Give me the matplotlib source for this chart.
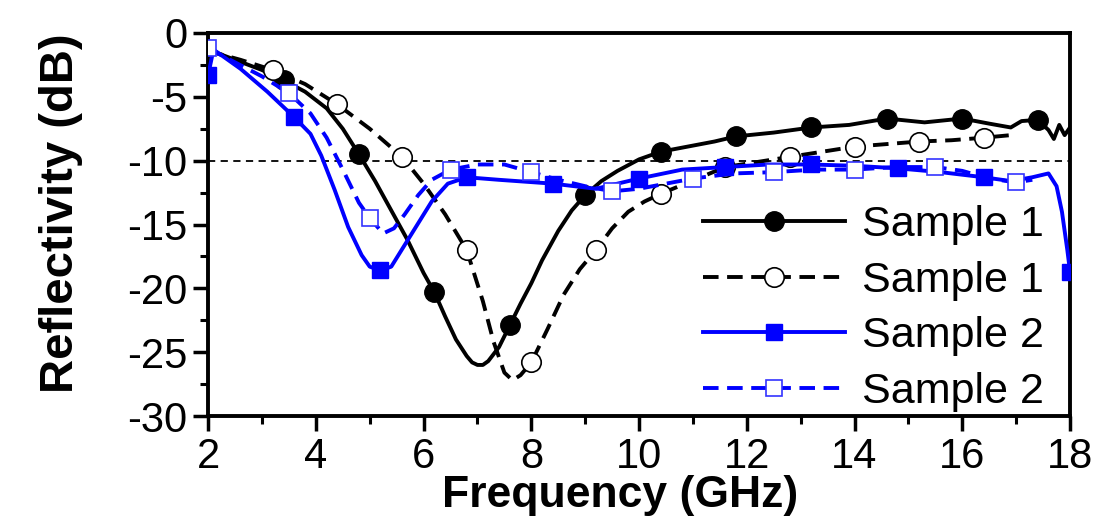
import numpy as np
import matplotlib
matplotlib.use("Agg")
import matplotlib.pyplot as plt
from matplotlib.ticker import MultipleLocator

plt.rcParams["font.family"] = ["Liberation Sans", "DejaVu Sans"]
plt.rcParams["axes.unicode_minus"] = False

# Sample 1 (solid, filled circles)
s1_x = [2.0, 2.5, 3.0, 3.4, 3.8, 4.2, 4.5, 4.8, 5.1, 5.4, 5.7, 6.0, 6.2, 6.4, 6.6, 6.8,
        6.9, 7.0, 7.1, 7.2, 7.4, 7.6, 7.8, 8.0, 8.2, 8.5, 8.75, 9.0, 9.3, 9.6, 10.0, 10.4,
        10.9, 11.4, 11.8, 12.5, 13.2, 13.9, 14.6, 15.3, 16.0, 16.5, 16.9, 17.1, 17.4,
        17.6, 17.7, 17.8, 17.9, 18.0]
s1_y = [-1.3, -2.1, -2.9, -3.7, -4.6, -5.9, -7.5, -9.5, -11.6, -13.9, -16.2, -18.8, -20.3,
        -22.2, -24.0, -25.3, -25.8, -26.0, -26.0, -25.7, -24.6, -22.9, -21.2, -19.6, -17.8,
        -15.5, -13.9, -12.7, -11.6, -10.8, -9.9, -9.3, -8.9, -8.5, -8.1, -7.8, -7.4, -7.2,
        -6.7, -7.0, -6.7, -7.1, -7.4, -6.9, -6.8, -7.6, -8.3, -7.2, -8.0, -7.4]
s1_mx = [3.4, 4.8, 6.2, 7.6, 9.0, 10.4, 11.8, 13.2, 14.6, 16.0, 17.4]

# Sample 1 (dashed, open circles)
s1d_x = [2.0, 2.6, 3.2, 3.8, 4.4, 5.0, 5.6, 6.0, 6.4, 6.8, 7.1, 7.3, 7.5, 7.65, 7.8, 8.0,
         8.3, 8.6, 8.9, 9.2, 9.5, 9.8, 10.1, 10.4, 10.8, 11.2, 11.6, 12.2, 12.8, 13.4,
         14.0, 14.6, 15.2, 15.8, 16.4, 16.9]
s1d_y = [-1.4, -2.1, -2.9, -4.0, -5.6, -7.5, -9.7, -11.8, -14.2, -17.0, -21.0, -24.2, -26.6,
         -27.2, -26.8, -25.8, -23.2, -20.5, -18.5, -17.0, -15.3, -14.0, -13.2, -12.6, -11.9,
         -11.2, -10.5, -10.1, -9.7, -9.3, -8.9, -8.7, -8.5, -8.4, -8.2, -8.0]
s1d_mx = [3.2, 4.4, 5.6, 6.8, 8.0, 9.2, 10.4, 11.6, 12.8, 14.0, 15.2, 16.4]

# Sample 2 (solid, filled squares)
s2_x = [2.0, 2.1, 2.6, 3.1, 3.6, 3.9, 4.1, 4.35, 4.6, 4.85, 5.0, 5.2, 5.4, 5.65, 5.9, 6.15,
        6.45, 6.8, 7.4, 8.4, 9.2, 10.0, 10.8, 11.6, 12.4, 13.2, 14.0, 14.8, 15.6, 16.4,
        16.9, 17.3, 17.6, 17.75, 17.85, 17.95, 18.0]
s2_y = [-3.3, -1.3, -2.8, -4.6, -6.6, -7.9, -9.6, -12.3, -15.2, -17.4, -18.3, -18.6, -18.3,
        -16.6, -14.9, -13.2, -11.8, -11.3, -11.5, -11.8, -12.2, -11.4, -10.7, -10.5, -10.3,
        -10.3, -10.4, -10.6, -10.9, -11.3, -11.6, -11.3, -11.0, -12.0, -14.0, -17.0, -18.7]
s2_mx = [2.0, 3.6, 5.2, 6.8, 8.4, 10.0, 11.6, 13.2, 14.8, 16.4, 18.0]

# Sample 2 (dashed, open squares)
s2d_x = [2.0, 2.5, 3.0, 3.5, 3.9, 4.2, 4.5, 4.8, 5.0, 5.25, 5.45, 5.65, 5.9, 6.15, 6.5, 7.0,
         7.5, 8.0, 8.5, 9.0, 9.5, 10.0, 10.5, 11.0, 11.75, 12.5, 13.25, 14.0, 14.75, 15.5,
         16.0, 16.5, 17.0, 17.3]
s2d_y = [-1.2, -2.3, -3.4, -4.7, -6.3, -8.2, -10.7, -13.3, -14.5, -15.7, -15.3, -14.2, -12.7,
         -11.5, -10.7, -10.3, -10.3, -10.9, -11.5, -12.0, -12.4, -12.2, -11.8, -11.4, -11.0,
         -10.9, -10.7, -10.7, -10.5, -10.5, -10.8, -11.4, -11.7, -11.5]
s2d_mx = [2.0, 3.5, 5.0, 6.5, 8.0, 9.5, 11.0, 12.5, 14.0, 15.5, 17.0]

xticks = [2, 4, 6, 8, 10, 12, 14, 16, 18]
yticks = [0, -5, -10, -15, -20, -25, -30]
blue = "#0000ff"

fig = plt.figure(figsize=(11.07, 5.27), dpi=100)
ax = fig.add_axes([0.188, 0.2106, 0.7786, 0.7268])

ax.axhline(-10, color="black", lw=1.3, ls=(0, (4, 3)), zorder=1)

def marks(xs, mx):
    return [xs.index(v) for v in mx]

ax.plot(s1_x, s1_y, color="black", lw=2.8, marker="o", ms=14,
        markevery=marks(s1_x, s1_mx), mfc="black", mec="black", label="Sample 1", zorder=3)
ax.plot(s1d_x, s1d_y, color="black", lw=2.8, ls=(0, (4, 2.2)), marker="o", ms=14,
        markevery=marks(s1d_x, s1d_mx), mfc="white", mec="black", mew=1.2,
        label="Sample 1", zorder=3)
ax.plot(s2_x, s2_y, color=blue, lw=2.8, marker="s", ms=12,
        markevery=marks(s2_x, s2_mx), mfc=blue, mec=blue, label="Sample 2", zorder=4)
ax.plot(s2d_x, s2d_y, color=blue, lw=2.8, ls=(0, (4, 2.2)), marker="s", ms=12,
        markevery=marks(s2d_x, s2d_mx), mfc="white", mec="#3333ff", mew=1.2,
        label="Sample 2", zorder=4)

ax.set_xlim(2, 18)
ax.set_ylim(-30, 0)
ax.set_xticks(xticks)
ax.set_yticks(yticks)
ax.xaxis.set_minor_locator(MultipleLocator(1))
ax.yaxis.set_minor_locator(MultipleLocator(2.5))
ax.tick_params(which="major", direction="out", length=11, width=2.5, labelsize=30, pad=4)
ax.tick_params(which="minor", direction="out", length=6, width=2.2)
ax.tick_params(top=False, right=False)
for sp in ax.spines.values():
    sp.set_linewidth(2.8)

ax.set_xlabel("Frequency (GHz)", fontsize=32, fontweight="bold")
ax.set_ylabel("Reflectivity (dB)", fontsize=34, fontweight="bold")
ax.xaxis.set_label_coords(0.478, -0.155)
ax.yaxis.set_label_coords(-0.145, 0.53)

ax.legend(loc="lower right", bbox_to_anchor=(0.975, 0.0), frameon=False, fontsize=31,
          handlelength=3.3, handletextpad=0.4, labelspacing=0.36, borderpad=0.1,
          borderaxespad=0)

fig.savefig("out.png", dpi=100)
